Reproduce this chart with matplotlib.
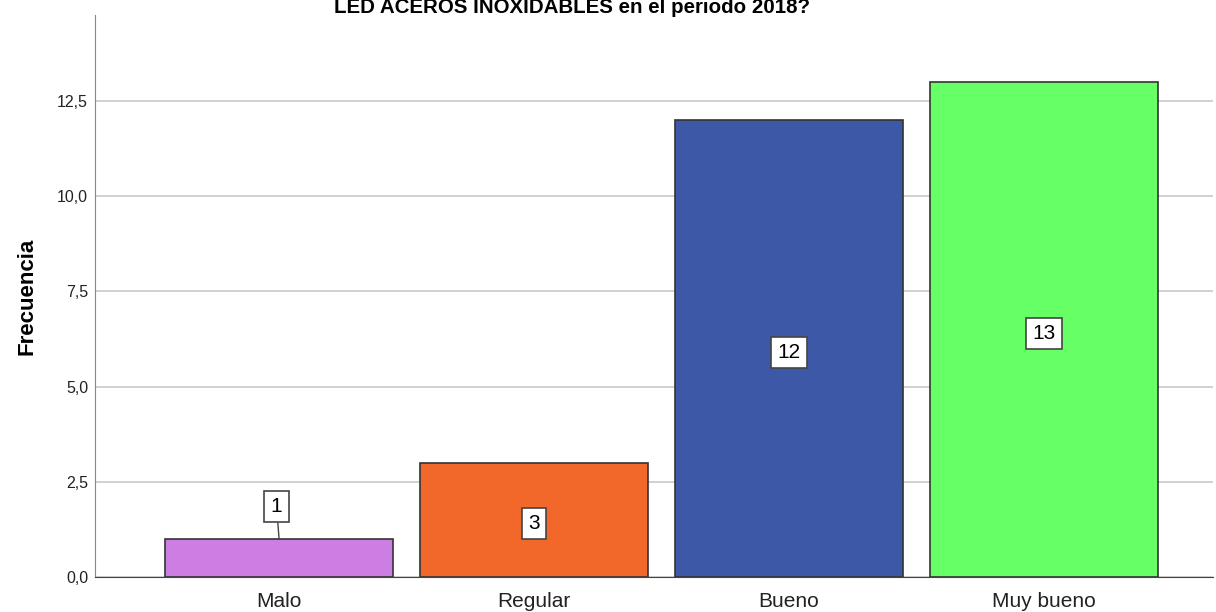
import numpy as np
import matplotlib
matplotlib.use("Agg")
import matplotlib.pyplot as plt
from matplotlib.ticker import FuncFormatter

plt.rcParams['font.family'] = ['Liberation Sans', 'DejaVu Sans']

categorias = ["Malo", "Regular", "Bueno", "Muy bueno"]
frecuencias = [1, 3, 12, 13]
colores = ["#CC7EE3", "#F2672A", "#3E58A8", "#66FF66"]
titulo = "LED ACEROS INOXIDABLES en el periodo 2018?"

fig = plt.figure(figsize=(12.16, 6.12), dpi=100)
ax = fig.add_axes([95/1216, 35/612, 1118/1216, 562/612])

x = np.arange(len(categorias))
ax.bar(x, frecuencias, width=0.895, color=colores, edgecolor="#333333",
       linewidth=1.2, zorder=3)

ax.set_xlim(-0.722, 3.663)
ax.set_ylim(0, 14.76)
ax.set_yticks(np.arange(0, 12.6, 2.5))
ax.yaxis.set_major_formatter(FuncFormatter(lambda v, p: f"{v:.1f}".replace(".", ",")))
ax.set_xticks(x)
ax.set_xticklabels(categorias, fontsize=15, color="#222222")
ax.tick_params(axis="y", length=0, labelsize=11.5, pad=5, colors="#222222")
ax.tick_params(axis="x", length=0, pad=11)
ax.grid(axis="y", color="#c8c8c8", linewidth=1.2, zorder=0)
ax.set_axisbelow(True)
for s in ["top", "right"]:
    ax.spines[s].set_visible(False)
ax.spines["left"].set_color("#888888")
ax.spines["bottom"].set_color("#444444")
ax.set_ylabel("Frecuencia", fontsize=16, fontweight="bold", labelpad=14)

caja = dict(boxstyle="square,pad=0.3", fc="white", ec="#444444", lw=1.2)
for xi, v in zip(x, frecuencias):
    if v < 2:
        ax.annotate(str(v), xy=(xi, v), xytext=(xi - 0.01, v + 0.85),
                    ha="center", va="center", fontsize=15, bbox=caja, zorder=5,
                    arrowprops=dict(arrowstyle="-", color="#444444", lw=1.0,
                                    shrinkA=0, shrinkB=0))
    else:
        ax.text(xi, v / 2 - 0.1, str(v), ha="center", va="center",
                fontsize=15, bbox=caja, zorder=5)

fig.text(572/1216, 1 - 13/612, titulo, ha="center", va="baseline",
         fontsize=14.8, fontweight="bold")

fig.savefig("out.png", dpi=100)
